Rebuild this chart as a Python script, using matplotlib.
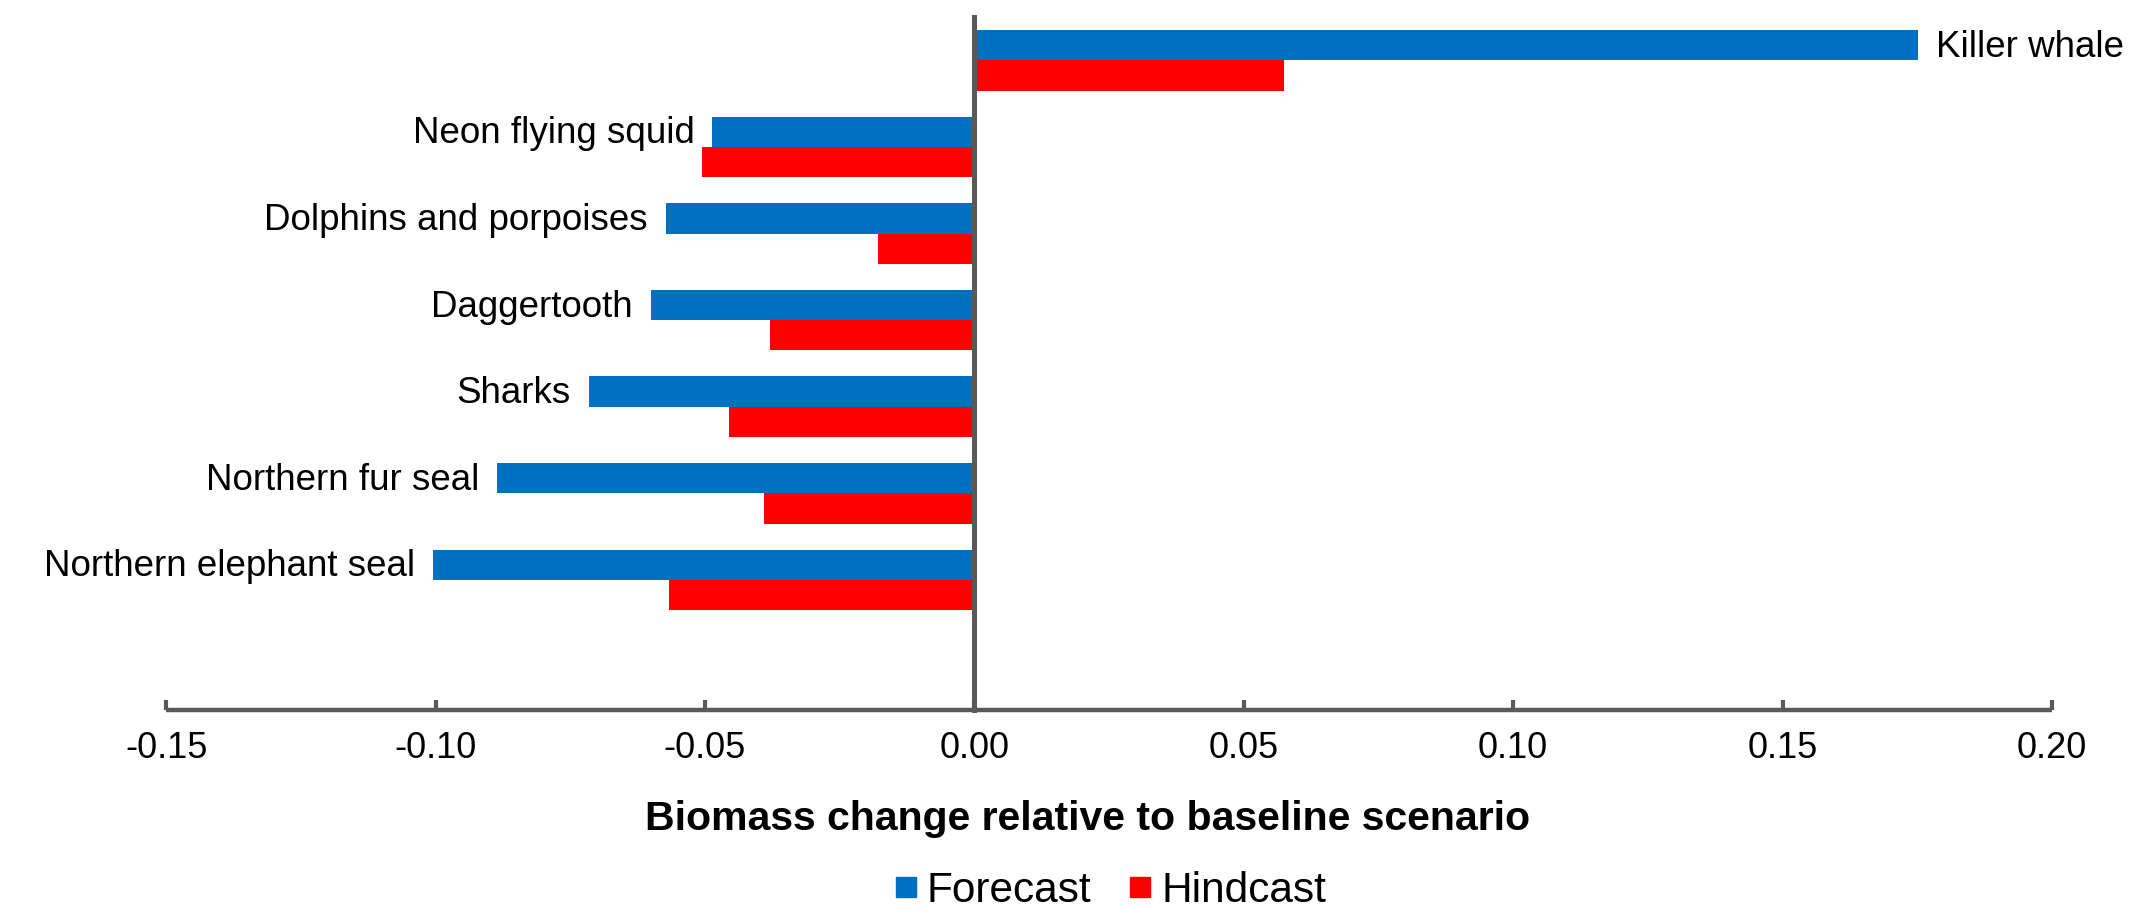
import matplotlib
matplotlib.use("Agg")
import matplotlib.pyplot as plt
from matplotlib.lines import Line2D
import numpy as np

plt.rcParams['font.family'] = ['Liberation Sans', 'DejaVu Sans']

# species, top to bottom
species = ["Killer whale", "Neon flying squid", "Dolphins and porpoises",
           "Daggertooth", "Sharks", "Northern fur seal", "Northern elephant seal"]
forecast = [0.1752, -0.0486, -0.0572, -0.0601, -0.0716, -0.0885, -0.1004]
hindcast = [0.0575, -0.0505, -0.0178, -0.0380, -0.0456, -0.0390, -0.0566]
xticks = [-0.15, -0.10, -0.05, 0.00, 0.05, 0.10, 0.15, 0.20]

blue = "#0070C0"
red = "#FF0000"
axis_grey = "#595959"

fig = plt.figure(figsize=(21.46, 9.08), dpi=100)
ax = fig.add_axes([0.0774, 0.2181, 0.9562 - 0.0774, 0.9813 - 0.2181])

y = np.arange(len(species))
h = 0.35
ax.barh(y - h / 2, forecast, height=h, color=blue, label="Forecast")
ax.barh(y + h / 2, hindcast, height=h, color=red, label="Hindcast")

# species names sit at the end of the forecast bar
for yi, name, val in zip(y, species, forecast):
    if val < 0:
        ax.annotate(name, (val, yi - h / 2), xytext=(-13, -1.5),
                    textcoords="offset points", ha="right", va="center", fontsize=26.5)
    else:
        ax.annotate(name, (val, yi - h / 2), xytext=(13, -1.5),
                    textcoords="offset points", ha="left", va="center", fontsize=26.5)

ax.set_xlim(-0.15, 0.20)
ax.set_ylim(7.5, -0.5)

for s in ["top", "right"]:
    ax.spines[s].set_visible(False)
ax.spines["left"].set_position(("data", 0))
ax.spines["left"].set_color(axis_grey)
ax.spines["left"].set_linewidth(3.6)
ax.spines["bottom"].set_color(axis_grey)
ax.spines["bottom"].set_linewidth(3.2)
ax.spines["bottom"].set_capstyle("butt")

ax.set_yticks([])
ax.set_xticks(xticks)
ax.set_xticklabels([f"{t:.2f}" for t in xticks])
ax.tick_params(axis="x", direction="in", length=7, width=3.0, color=axis_grey,
               labelsize=26, pad=15)

fig.text(0.507, 0.0985, "Biomass change relative to baseline scenario",
         ha="center", va="center", fontsize=29.5, fontweight="bold")

handles = [Line2D([], [], marker="s", linestyle="", color=blue, markersize=15),
           Line2D([], [], marker="s", linestyle="", color=red, markersize=15)]
fig.legend(handles, ["Forecast", "Hindcast"], loc="center", ncol=2,
           bbox_to_anchor=(0.517, 0.019), frameon=False, fontsize=30.5,
           handlelength=0.6, handletextpad=0.2, columnspacing=0.85, borderpad=0)

fig.savefig("out.png", dpi=100)
